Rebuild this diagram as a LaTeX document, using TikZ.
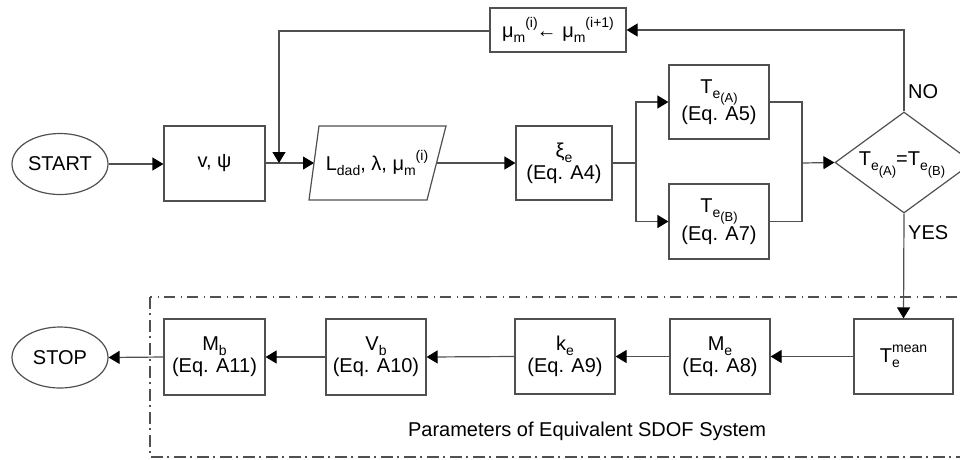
\documentclass[tikz,border=0pt]{standalone}
\usepackage{fontspec}
\setmainfont{Liberation Sans}
\usetikzlibrary{arrows.meta,shapes.geometric}
\newcommand{\sbx}[1]{\raisebox{-0.25em}{\fontsize{14}{14}\selectfont #1}}
\newcommand{\spx}[1]{\raisebox{0.5em}{\fontsize{14}{14}\selectfont #1}}
\newcommand{\ssbx}[1]{\raisebox{-0.3em}{\fontsize{13}{13}\selectfont #1}}
\definecolor{ln}{HTML}{505050}
\tikzset{
  every node/.style={font=\fontsize{20}{22}\selectfont, text=black},
  boxa/.style={draw=ln, line width=1.2pt, rectangle, inner sep=0pt, align=center},
  term/.style={draw=ln, line width=1.2pt, ellipse, inner sep=0pt, minimum width=96pt, minimum height=61pt},
  conn/.style={draw=ln, line width=1.2pt, -{Triangle[length=11pt,width=13pt,black]}},
  plain/.style={draw=ln, line width=1.2pt},
  dashdotbox/.style={draw=ln, line width=1.2pt, dash pattern=on 11.5pt off 4.5pt on 1.5pt off 5.5pt}
}
\begin{document}
\begin{tikzpicture}[x=1pt,y=-1pt]
\useasboundingbox (0,0) rectangle (960,459);
\clip (0,0) rectangle (960,459);
\fill[white] (0,0) rectangle (960,459);

% dash-dot frame
\draw[dashdotbox] (150,297) rectangle (980,457);
\node (plabel) at (587,431) {Parameters of Equivalent SDOF System};

% top row
\node[term] (start) at (60,164) {START};
\node[boxa, minimum width=101pt, minimum height=75pt] (vpsi) at (214.5,163.5) {v, ψ};
\node[inner sep=0pt, minimum width=120pt, minimum height=74pt] (ldad) at (377,163) {L\sbx{dad}, λ, μ\sbx{m}\spx{(i)}};
\draw[plain] (319,126) -- (446,126) -- (427,200) -- (309,200) -- cycle;
\coordinate (ldadin) at (314,163);
\coordinate (ldadout) at (436.5,163);
\node[boxa, minimum width=96pt, minimum height=74pt] (xi) at (564,163) {ξ\sbx{e}\\(Eq. A4)};
\node[boxa, minimum width=100pt, minimum height=74pt] (tea) at (719,102) {T\sbx{e\ssbx{(A)}}\\(Eq. A5)};
\node[boxa, minimum width=100pt, minimum height=75pt] (teb) at (719,221.5) {T\sbx{e\ssbx{(B)}}\\(Eq. A7)};
\node[draw=ln, line width=1.2pt, diamond, aspect=1.366, minimum width=138pt, minimum height=101pt, inner sep=0pt] (dia) at (904,162.5) {};
\node (diatext) at (902,165) {T\sbx{e\ssbx{(A)}}=T\sbx{e\ssbx{(B)}}};
\node[boxa, minimum width=136pt, minimum height=44pt] (mu) at (558,30) {μ\sbx{m}\spx{(i)}\kern-1pt← μ\sbx{m}\spx{(i+1)}};
\node[anchor=west, inner sep=0pt] (no) at (908,92) {NO};
\node[anchor=west, inner sep=0pt] (yes) at (908,233) {YES};

% bottom row
\node[boxa, minimum width=99pt, minimum height=75pt] (tmean) at (903.5,356.5) {T\rlap{\sbx{e}}\spx{mean}};
\node[boxa, minimum width=100pt, minimum height=75pt] (me) at (720,356.5) {M\sbx{e}\\(Eq. A8)};
\node[boxa, minimum width=100pt, minimum height=75pt] (ke) at (565,356.5) {k\sbx{e}\\(Eq. A9)};
\node[boxa, minimum width=100pt, minimum height=76pt] (vb) at (376,357) {V\sbx{b}\\(Eq. A10)};
\node[boxa, minimum width=101pt, minimum height=76pt] (mb) at (214.5,357) {M\sbx{b}\\(Eq. A11)};
\node[term] (stop) at (60,357.5) {STOP};

% connectors top
\draw[conn] (start.east) -- (vpsi.west |- start.east);
\draw[conn] (vpsi.east |- ldadin) -- (ldadin);
\draw[conn] (ldadout) -- (xi.west |- ldadout);
\coordinate (split) at (636,163);
\draw[plain] (xi.east |- split) -- (split);
\draw[conn] (split) |- (tea.west);
\draw[conn] (split) |- (teb.west);
\coordinate (merge) at (802,163);
\draw[plain] (tea.east) -| (merge);
\draw[plain] (teb.east) -| (merge);
\draw[conn] (merge) -- (dia.west);
\draw[conn] (dia.north) |- (mu.east);
\coordinate (fbc) at (279,31);
\coordinate (fbe) at (279,163);
\draw[conn] (mu.west |- fbc) -- (fbc) -- (fbe);
\draw[conn] (dia.south) -- (tmean.north);

% connectors bottom
\draw[conn] (tmean.west) -- (me.east);
\draw[conn] (me.west) -- (ke.east);
\draw[conn] (ke.west) -- (vb.east);
\draw[conn] (vb.west) -- (mb.east);
\draw[conn] (mb.west) -- (stop.east);
\end{tikzpicture}
\end{document}
